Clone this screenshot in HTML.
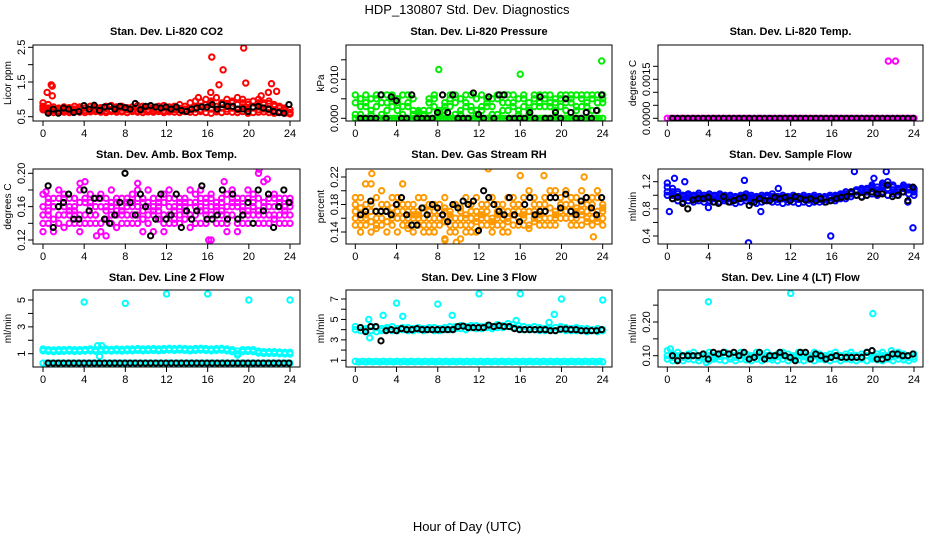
<!DOCTYPE html>
<html><head><meta charset="utf-8"><style>
html,body{margin:0;padding:0;background:#fff;}
svg{display:block;font-family:"Liberation Sans",Arial,sans-serif;}
</style></head><body>
<svg id="chart" width="936" height="540" viewBox="0 0 936 540" xmlns="http://www.w3.org/2000/svg">
<text x="467" y="14" font-size="13" text-anchor="middle">HDP_130807  Std. Dev. Diagnostics</text>
<text x="467" y="531" font-size="13" text-anchor="middle">Hour of Day (UTC)</text>
</svg>
<script>
// ---- data ----
const xTicks = [0,4,8,12,16,20,24];
const co2A = [0.9,0.75,0.7,0.72,0.68,0.7,0.72,0.7,0.75,0.7,0.72,0.7,0.74,0.7,0.72,0.75,0.72,0.7,0.74,0.72,0.7,0.74,0.72,0.75,0.72,0.7,0.74,0.72,0.75,0.78,0.8,0.85,0.9,0.8,0.85,0.88,0.9,0.85,0.9,0.85,0.95,0.9,0.85,0.88,0.8,0.75,0.7,0.6];
const co2B = [0.7,0.65,0.62,0.65,0.63,0.62,0.65,0.63,0.62,0.64,0.65,0.63,0.62,0.65,0.63,0.64,0.62,0.65,0.63,0.62,0.64,0.63,0.65,0.62,0.64,0.63,0.62,0.65,0.63,0.62,0.65,0.62,0.6,0.64,0.62,0.65,0.63,0.62,0.65,0.6,0.62,0.63,0.64,0.62,0.6,0.62,0.6,0.58];
const co2C = [0.8,0.85,0.78,0.75,0.78,0.76,0.8,0.78,0.75,0.8,0.78,0.76,0.8,0.82,0.78,0.8,0.76,0.78,0.82,0.8,0.78,0.76,0.8,0.82,0.78,0.8,0.85,0.8,0.9,0.95,0.92,1.0,0.95,1.05,0.9,1.0,0.95,1.05,1.0,0.92,0.95,1.0,0.9,0.95,0.85,0.8,0.75,0.7];
const co2D = [0.75,0.7,0.68,0.66,0.7,0.67,0.68,0.72,0.68,0.67,0.7,0.68,0.67,0.7,0.68,0.67,0.7,0.68,0.67,0.69,0.7,0.68,0.7,0.67,0.68,0.72,0.7,0.68,0.7,0.72,0.7,0.75,0.72,0.7,0.75,0.72,0.75,0.7,0.78,0.72,0.75,0.7,0.72,0.7,0.68,0.66,0.64,0.62];
const co2Out = [[0.4,1.2],[0.8,1.42],[0.9,1.38],[0.9,1.1],[16.4,2.22],[17.5,1.85],[19.5,2.48],[19.7,1.47],[17.1,1.42],[22.2,1.45],[22.7,1.23],[21.9,1.2],[15.1,1.05],[21.2,1.1],[16.3,1.2]];
const co2Black = [0.6,0.72,0.6,0.75,0.72,0.62,0.65,0.82,0.72,0.83,0.68,0.78,0.8,0.72,0.8,0.76,0.72,0.88,0.7,0.8,0.82,0.78,0.75,0.78,0.72,0.78,0.68,0.65,0.72,0.75,0.78,0.78,0.85,0.72,0.85,0.8,0.8,0.72,0.72,0.65,0.78,0.8,0.75,0.72,0.65,0.62,0.6,0.85];

const presA = [0.006,0.001,0.004,0.005,0.003,0.006,0.002,0.005,0.004,0.006,0.003,0.005,0.002,0.001,0.002,0.006,0.0015,0.002,0.006,0.004,0.001,0.003,0.006,0.002,0.006,0.003,0.005,0.006,0.004,0.002,0.006,0.005,0.003,0.001,0.006,0.004,0.003,0.006,0.002,0.005,0.006,0.004,0.006,0.003,0.006,0.005,0.002,0.006];
const presB = [0.001,0.005,0.003,0.002,0.006,0.001,0.004,0.006,0.002,0.003,0.004,0.001,0.0015,0.001,0.005,0.003,0.002,0.004,0.003,0.001,0.005,0.006,0.003,0.001,0.002,0.005,0.003,0.001,0.002,0.006,0.004,0.002,0.005,0.004,0.003,0.006,0.005,0.003,0.004,0.006,0.002,0.005,0.003,0.006,0.004,0.002,0.006,0.004];
const presC = [0.004,0.003,0.006,0.001,0.005,0.004,0.006,0.003,0.005,0.001,0.006,0.002,0.001,0.002,0.004,0.005,0.001,0.003,0.005,0.006,0.002,0.004,0.002,0.005,0.003,0.004,0.001,0.005,0.006,0.004,0.003,0.001,0.006,0.002,0.005,0.003,0.006,0.004,0.005,0.003,0.004,0.006,0.002,0.005,0.003,0.006,0.004,0.005];
const presLow = [0,0,0,0,0,0,0,0,0,0,0,0,0,0,0,0,0,0,0,0,0,0,0,0,0,0,0,0,0,0,0,0,0,0,0,0,0,0,0,0,0,0,0,0,0,0,0,0,0,0,0,0,0,0,0,0,0,0,0,0,0,0,0,0,0,0,0,0,0,0,0,0];
const presOut = [[8.1,0.0125],[16,0.0113],[23.9,0.0147]];
const presBlack = [0,0,0,0,0.006,0,0.0055,0.0045,0,0,0.006,0,0,0,0,0.0015,0.006,0.0015,0.006,0,0,0,0.0065,0.001,0,0.0055,0,0.006,0.006,0,0,0,0,0.0015,0,0.0055,0,0,0.0015,0,0.005,0.0015,0,0,0.0015,0,0.002,0.006];

const tempMag = [0,0,0,0,0,0,0,0,0,0,0,0,0,0,0,0,0,0,0,0,0,0,0,0,0,0,0,0,0,0,0,0,0,0,0,0,0,0,0,0,0,0,0,0,0,0,0,0,0,0,0,0,0,0,0,0,0,0,0,0,0,0,0,0,0,0,0,0,0,0,0,0];
const tempOut = [[21.5,0.0022],[22.2,0.0022]];
const tempBlack = [0,0,0,0,0,0,0,0,0,0,0,0,0,0,0,0,0,0,0,0,0,0,0,0,0,0,0,0,0,0,0,0,0,0,0,0,0,0,0,0,0,0,0,0,0,0,0,0];

const ambA = [0.14,0.17,0.13,0.18,0.15,0.16,0.17,0.14,0.19,0.15,0.17,0.16,0.125,0.18,0.15,0.16,0.17,0.14,0.18,0.155,0.165,0.13,0.17,0.15,0.18,0.16,0.14,0.17,0.15,0.16,0.18,0.14,0.17,0.155,0.165,0.13,0.17,0.16,0.15,0.18,0.16,0.14,0.19,0.15,0.17,0.14,0.16,0.15];
const ambB = [0.16,0.14,0.17,0.15,0.135,0.17,0.15,0.18,0.14,0.16,0.15,0.14,0.17,0.16,0.135,0.17,0.15,0.16,0.14,0.17,0.18,0.15,0.165,0.14,0.16,0.17,0.15,0.16,0.18,0.14,0.155,0.165,0.12,0.16,0.17,0.15,0.18,0.14,0.16,0.17,0.15,0.2,0.16,0.17,0.15,0.165,0.14,0.16];
const ambC = [0.175,0.155,0.16,0.14,0.17,0.15,0.16,0.13,0.165,0.175,0.14,0.17,0.155,0.15,0.17,0.14,0.16,0.175,0.15,0.13,0.16,0.17,0.145,0.175,0.15,0.14,0.17,0.165,0.135,0.175,0.16,0.15,0.175,0.14,0.15,0.175,0.16,0.13,0.17,0.15,0.165,0.17,0.14,0.16,0.175,0.16,0.15,0.17];
const ambD = [0.15,0.165,0.145,0.16,0.175,0.14,0.155,0.165,0.15,0.14,0.16,0.175,0.145,0.165,0.155,0.15,0.14,0.165,0.16,0.145,0.15,0.16,0.155,0.165,0.14,0.155,0.16,0.145,0.165,0.15,0.17,0.155,0.16,0.165,0.14,0.16,0.15,0.165,0.14,0.155,0.175,0.15,0.165,0.14,0.16,0.15,0.17,0.14];
const ambE = [0.13,0.15,0.16,0.17,0.16,0.155,0.14,0.15,0.17,0.165,0.15,0.13,0.16,0.14,0.165,0.155,0.165,0.15,0.17,0.165,0.14,0.155,0.16,0.13,0.17,0.145,0.165,0.155,0.15,0.165,0.14,0.17,0.15,0.16,0.155,0.14,0.165,0.17,0.155,0.14,0.16,0.155,0.15,0.17,0.145,0.17,0.155,0.165];
const ambOut = [[0.3,0.178],[3.6,0.188],[5.2,0.125],[9.2,0.188],[16.1,0.12],[21,0.205],[21.8,0.193],[17.6,0.19]];
const ambBlack = [0.185,0.135,0.16,0.165,0.175,0.145,0.145,0.18,0.155,0.17,0.17,0.145,0.14,0.15,0.165,0.2,0.165,0.15,0.175,0.16,0.125,0.145,0.175,0.145,0.15,0.175,0.135,0.155,0.145,0.155,0.185,0.145,0.145,0.15,0.18,0.145,0.175,0.145,0.15,0.165,0.14,0.18,0.155,0.175,0.135,0.16,0.18,0.165];

const rhA = [0.17,0.19,0.15,0.18,0.16,0.2,0.17,0.15,0.19,0.16,0.18,0.14,0.17,0.19,0.16,0.15,0.18,0.17,0.14,0.16,0.13,0.15,0.17,0.19,0.16,0.15,0.14,0.17,0.16,0.19,0.15,0.18,0.17,0.2,0.16,0.18,0.15,0.19,0.17,0.16,0.2,0.15,0.17,0.18,0.16,0.19,0.17,0.15];
const rhB = [0.15,0.16,0.18,0.14,0.19,0.15,0.17,0.19,0.14,0.17,0.16,0.18,0.15,0.16,0.14,0.18,0.15,0.13,0.16,0.18,0.15,0.14,0.16,0.17,0.15,0.18,0.16,0.15,0.18,0.14,0.17,0.16,0.19,0.15,0.17,0.16,0.18,0.15,0.2,0.17,0.16,0.17,0.19,0.15,0.18,0.16,0.2,0.16];
const rhC = [0.19,0.14,0.17,0.21,0.15,0.17,0.14,0.16,0.18,0.21,0.15,0.17,0.19,0.14,0.18,0.17,0.16,0.19,0.15,0.18,0.17,0.19,0.15,0.14,0.18,0.17,0.19,0.16,0.15,0.17,0.19,0.16,0.15,0.17,0.19,0.15,0.17,0.2,0.16,0.19,0.17,0.18,0.16,0.2,0.17,0.15,0.19,0.18];
const rhD = [0.16,0.175,0.165,0.155,0.17,0.16,0.18,0.165,0.16,0.15,0.17,0.16,0.165,0.175,0.15,0.16,0.17,0.155,0.165,0.15,0.16,0.165,0.18,0.155,0.17,0.16,0.15,0.165,0.17,0.16,0.18,0.15,0.165,0.17,0.155,0.17,0.16,0.175,0.165,0.18,0.17,0.16,0.175,0.165,0.155,0.17,0.16,0.17];
const rhE = [0.18,0.15,0.16,0.17,0.145,0.18,0.155,0.175,0.17,0.18,0.145,0.165,0.16,0.15,0.17,0.14,0.16,0.175,0.17,0.14,0.175,0.16,0.14,0.16,0.165,0.17,0.155,0.18,0.14,0.155,0.165,0.17,0.16,0.145,0.18,0.165,0.19,0.16,0.15,0.175,0.18,0.19,0.15,0.17,0.19,0.18,0.155,0.175];
const rhOut = [[1.6,0.225],[9.8,0.125],[12.9,0.232],[16,0.222],[18.3,0.222],[8.7,0.128],[22.2,0.22],[23.1,0.133],[1,0.21]];
const rhBlack = [0.165,0.17,0.185,0.17,0.17,0.17,0.165,0.18,0.19,0.165,0.15,0.15,0.175,0.165,0.18,0.175,0.165,0.155,0.18,0.175,0.185,0.18,0.185,0.142,0.2,0.19,0.18,0.17,0.165,0.19,0.165,0.155,0.18,0.19,0.165,0.17,0.17,0.19,0.19,0.175,0.195,0.17,0.165,0.185,0.19,0.175,0.165,0.19];

const flowA = [1.18,1.1,1.05,1.0,1.02,1.0,1.03,1.0,1.02,1.0,1.02,1.0,1.0,0.98,1.0,1.02,1.0,0.98,1.0,1.0,1.02,0.98,1.0,0.98,1.0,0.98,1.0,0.98,1.0,0.98,0.98,1.0,1.0,1.02,1.05,1.05,1.08,1.1,1.1,1.15,1.12,1.18,1.2,1.15,1.1,1.15,1.12,1.1];
const flowB = [1.0,0.95,0.92,0.9,0.92,0.9,0.92,0.9,0.92,0.9,0.9,0.92,0.9,0.88,0.9,0.92,0.9,0.88,0.9,0.92,0.9,0.9,0.88,0.9,0.9,0.88,0.9,0.88,0.9,0.9,0.9,0.92,0.92,0.95,0.95,0.98,1.0,0.98,1.0,1.02,1.0,1.05,1.0,1.02,1.0,1.05,1.02,1.0];
const flowC = [1.05,1.0,0.98,0.95,0.97,0.95,0.97,0.95,0.96,0.95,0.97,0.95,0.95,0.93,0.95,0.96,0.95,0.94,0.95,0.96,0.95,0.94,0.95,0.94,0.95,0.94,0.95,0.93,0.95,0.94,0.94,0.96,0.96,0.98,1.0,1.02,1.05,1.05,1.08,1.1,1.08,1.12,1.1,1.08,1.05,1.1,1.08,1.05];
const flowD = [1.12,1.05,1.02,0.98,1.0,0.98,1.0,0.97,0.99,0.98,1.0,0.97,0.98,0.96,0.97,0.99,0.97,0.96,0.97,0.98,0.98,0.96,0.97,0.96,0.97,0.96,0.97,0.96,0.97,0.96,0.96,0.98,0.98,1.0,1.02,1.04,1.06,1.08,1.05,1.12,1.05,1.15,1.15,1.12,1.08,1.12,1.1,1.08];
const flowOut = [[0.2,0.76],[0.7,1.25],[7.9,0.3],[9.1,0.76],[4,0.82],[15.9,0.4],[7.5,1.22],[23.9,0.52],[18.2,1.35],[21.3,1.35],[20.1,1.25],[10.8,1.1],[1.7,1.2],[23.4,0.9]];
const flowBlack = [0.95,0.97,0.88,0.8,0.93,0.95,0.95,0.97,0.9,0.88,0.98,0.9,0.92,0.95,0.97,0.85,0.9,0.95,0.92,0.92,0.97,0.95,0.97,0.92,0.98,0.95,0.93,0.95,0.92,0.95,0.9,0.92,0.95,0.97,0.98,1.05,1.0,0.97,1.0,1.05,1.02,1.02,1.15,0.98,1.0,1.05,0.92,1.12];

const l2A = [1.35,1.3,1.28,1.3,1.3,1.32,1.3,1.3,1.32,1.35,1.3,1.32,1.35,1.32,1.35,1.33,1.35,1.35,1.38,1.35,1.36,1.38,1.35,1.38,1.4,1.38,1.4,1.38,1.35,1.38,1.4,1.38,1.35,1.38,1.4,1.35,1.3,1.2,1.3,1.3,1.3,1.2,1.15,1.15,1.15,1.12,1.1,1.1];
const l2B = [1.22,1.18,1.15,1.17,1.18,1.2,1.17,1.18,1.2,1.22,1.18,1.2,1.22,1.2,1.22,1.2,1.22,1.22,1.25,1.22,1.23,1.25,1.22,1.25,1.27,1.25,1.27,1.25,1.22,1.25,1.27,1.25,1.22,1.25,1.27,1.22,1.15,1.0,1.15,1.18,1.15,1.05,1.02,1.02,1.02,1.0,0.98,0.98];
const l2Low = [0.3,0.3,0.3,0.3,0.3,0.3,0.3,0.3,0.3,0.3,0.3,0.3,0.3,0.3,0.3,0.3,0.3,0.3,0.3,0.3,0.3,0.3,0.3,0.3,0.3,0.3,0.3,0.3,0.3,0.3,0.3,0.3,0.3,0.3,0.3,0.3,0.3,0.3,0.3,0.3,0.3,0.3,0.3,0.3,0.3,0.3,0.3,0.3,0.3,0.3,0.3,0.3,0.3,0.3,0.3,0.3,0.3,0.3,0.3,0.3,0.3,0.3,0.3,0.3,0.3,0.3,0.3,0.3,0.3,0.3,0.3,0.3];
const l2Out = [[4,4.85],[8,4.75],[12,5.45],[16,5.45],[20,5.0],[24,5.0],[5.3,1.6],[5.7,1.6],[5.5,0.8],[18.9,0.9]];
const l2Black = [0.3,0.3,0.3,0.3,0.3,0.3,0.3,0.3,0.3,0.3,0.3,0.3,0.3,0.3,0.3,0.3,0.3,0.3,0.3,0.3,0.3,0.3,0.3,0.3,0.3,0.3,0.3,0.3,0.3,0.3,0.3,0.3,0.3,0.3,0.3,0.3,0.3,0.3,0.3,0.3,0.3,0.3,0.3,0.3,0.3,0.3,0.3,0.3];

const l3A = [4.3,4.2,4.1,4.3,4.2,4.1,4.2,4.3,4.1,4.2,4.2,4.1,4.2,4.1,4.2,4.2,4.1,4.2,4.3,4.3,4.4,4.3,4.4,4.4,4.3,4.4,4.3,4.5,4.4,4.6,4.5,4.4,4.3,4.2,4.3,4.2,4.1,4.2,4.2,4.3,4.2,4.1,4.2,4.1,4.1,4.0,4.1,4.0];
const l3B = [4.0,3.9,4.0,3.9,3.8,3.9,4.0,3.9,3.9,4.0,3.9,3.9,4.0,3.9,4.0,3.9,3.9,4.0,4.0,4.1,4.1,4.0,4.2,4.1,4.1,4.2,4.1,4.2,4.2,4.3,4.2,4.1,4.0,4.0,4.0,3.9,3.9,4.0,3.9,4.0,3.9,3.9,3.9,3.9,3.8,3.9,3.8,3.9];
const l3Low = [0.9,0.85,0.9,0.85,0.9,0.85,0.9,0.85,0.9,0.85,0.9,0.85,0.9,0.85,0.9,0.85,0.9,0.85,0.9,0.85,0.9,0.85,0.9,0.85,0.9,0.85,0.9,0.85,0.9,0.85,0.9,0.85,0.9,0.85,0.9,0.85,0.9,0.85,0.9,0.85,0.9,0.85,0.9,0.85,0.9,0.85,0.9,0.85,0.9,0.85,0.9,0.85,0.9,0.85,0.9,0.85,0.9,0.85,0.9,0.85,0.9,0.85,0.9,0.85,0.9,0.85,0.9,0.85,0.9,0.85,0.9,0.85];
const l3Out = [[4,6.6],[8,6.5],[12,7.5],[16,7.5],[20,7],[24,6.9],[2.7,5.4],[4.6,5.3],[9.4,5.4],[19.3,5.5],[1.4,3.2],[1.3,5],[15.6,4.9],[18.8,4.7]];
const l3Black = [4.2,3.8,4.3,4.3,2.9,3.9,4.0,3.9,4.1,4.0,4.0,4.1,4.0,4.0,4.0,4.0,4.0,4.0,4.0,4.3,4.35,4.2,4.2,4.2,4.2,4.45,4.3,4.4,4.3,4.3,4.1,4.0,4.0,4.0,4.0,4.0,4.0,3.9,3.9,4.05,4.05,4.0,4.0,3.9,3.9,3.9,3.9,4.0];

const l4A = [0.115,0.105,0.11,0.1,0.105,0.11,0.1,0.105,0.11,0.1,0.105,0.11,0.105,0.1,0.11,0.105,0.1,0.11,0.105,0.11,0.1,0.105,0.11,0.105,0.1,0.11,0.105,0.1,0.11,0.105,0.1,0.105,0.11,0.1,0.105,0.11,0.1,0.105,0.11,0.1,0.105,0.11,0.1,0.105,0.11,0.105,0.1,0.105];
const l4B = [0.09,0.085,0.09,0.085,0.09,0.088,0.085,0.09,0.085,0.09,0.088,0.085,0.09,0.085,0.09,0.088,0.085,0.09,0.085,0.09,0.088,0.085,0.09,0.085,0.09,0.088,0.085,0.09,0.085,0.09,0.088,0.085,0.09,0.085,0.09,0.088,0.085,0.09,0.085,0.09,0.088,0.085,0.09,0.085,0.09,0.088,0.085,0.09];
const l4C = [0.1,0.095,0.1,0.095,0.098,0.1,0.095,0.097,0.1,0.095,0.098,0.1,0.096,0.095,0.1,0.097,0.095,0.1,0.096,0.1,0.095,0.097,0.1,0.096,0.095,0.1,0.097,0.095,0.1,0.096,0.095,0.097,0.1,0.095,0.097,0.1,0.095,0.097,0.1,0.095,0.097,0.1,0.095,0.097,0.1,0.096,0.095,0.097];
const l4Out = [[4,0.26],[12,0.285],[20,0.225],[0.3,0.12],[21.8,0.115],[3.8,0.08]];
const l4Black = [0.1,0.085,0.1,0.1,0.1,0.1,0.105,0.09,0.11,0.105,0.11,0.105,0.11,0.1,0.11,0.09,0.095,0.11,0.09,0.1,0.1,0.11,0.1,0.095,0.085,0.11,0.11,0.09,0.105,0.1,0.09,0.095,0.1,0.095,0.095,0.095,0.095,0.095,0.11,0.115,0.09,0.09,0.095,0.105,0.105,0.1,0.1,0.105];

// ---- layout ----
const NS = "http://www.w3.org/2000/svg";
const svg = document.getElementById('chart');
const cols = [{l:33,r:300,h0:43,h24:290},{l:346,r:612,h0:355.3,h24:602.7},{l:658,r:923,h0:667.3,h24:914}];
const rows = [{t:45,b:121,title:35},{t:169,b:244,title:158},{t:290,b:367,title:281}];

function mk(tag, attrs, parent){ const e=document.createElementNS(NS,tag); for(const k in attrs) e.setAttribute(k,attrs[k]); (parent||svg).appendChild(e); return e; }

const panels = [
 {name:'co2',title:'Stan. Dev. Li-820 CO2',ylab:'Licor ppm',col:0,row:0,ym:[0.5,116.7,2.5,47.3],ticks:[0.5,1,1.5,2,2.5],labels:['0.5','1.5','2.5'],color:'#ff0000',series:[co2B,co2D,co2A,co2C],out:co2Out,black:co2Black},
 {name:'pressure',title:'Stan. Dev. Li-820 Pressure',ylab:'kPa',col:1,row:0,ym:[0,118.3,0.01,79.3],ticks:[0,0.005,0.01,0.015],labels:['0.000','0.010'],color:'#00ee00',series:[presLow,presB,presA,presC],out:presOut,black:presBlack},
 {name:'temp',title:'Stan. Dev. Li-820 Temp.',ylab:'degrees C',col:2,row:0,ym:[0,118.3,0.0015,79.3],ticks:[0,0.0005,0.001,0.0015,0.002],labels:['0.0000','0.0015'],color:'#ff00ff',series:[tempMag],out:tempOut,black:tempBlack},
 {name:'amb-box-temp',title:'Stan. Dev. Amb. Box Temp.',ylab:'degrees C',col:0,row:1,ym:[0.12,240,0.2,173.3],ticks:[0.12,0.14,0.16,0.18,0.2],labels:['0.12','0.16','0.20'],color:'#ff00ff',series:[ambA,ambB,ambC,ambD,ambE],out:ambOut,black:ambBlack},
 {name:'gas-rh',title:'Stan. Dev. Gas Stream RH',ylab:'percent',col:1,row:1,ym:[0.14,232,0.22,177],ticks:[0.14,0.16,0.18,0.2,0.22],labels:['0.14','0.18','0.22'],color:'#ff9900',series:[rhA,rhB,rhC,rhD,rhE],out:rhOut,black:rhBlack},
 {name:'sample-flow',title:'Stan. Dev. Sample Flow',ylab:'ml/min',col:2,row:1,ym:[0.4,236,1.2,181.7],ticks:[0.4,0.6,0.8,1,1.2],labels:['0.4','0.8','1.2'],color:'#0000ff',series:[flowB,flowC,flowD,flowA],out:flowOut,black:flowBlack},
 {name:'line2-flow',title:'Stan. Dev. Line 2 Flow',ylab:'ml/min',col:0,row:2,ym:[1,353.7,5,300],ticks:[1,2,3,4,5],labels:['1','3','5'],color:'#00ffff',series:[l2Low,l2B,l2A],out:l2Out,black:l2Black},
 {name:'line3-flow',title:'Stan. Dev. Line 3 Flow',ylab:'ml/min',col:1,row:2,ym:[1,360.3,7,299],ticks:[1,2,3,4,5,6,7],labels:['1','3','5','7'],color:'#00ffff',series:[l3Low,l3B,l3A],out:l3Out,black:l3Black},
 {name:'line4-flow',title:'Stan. Dev. Line 4 (LT) Flow',ylab:'ml/min',col:2,row:2,ym:[0.1,355.7,0.2,322],ticks:[0.1,0.15,0.2,0.25],labels:['0.10','0.20'],color:'#00ffff',series:[l4B,l4C,l4A],out:l4Out,black:l4Black}
];

panels.forEach(p=>{
  const c=cols[p.col], r=rows[p.row];
  const xs = h => c.h0 + (c.h24-c.h0)*h/24;
  const ys = v => p.ym[1] + (v-p.ym[0])*(p.ym[3]-p.ym[1])/(p.ym[2]-p.ym[0]);
  const g = mk('g',{});
  
  
  const clipId='clip-'+p.name;
  const cp=mk('clipPath',{id:clipId},g); mk('rect',{x:c.l,y:r.t,width:c.r-c.l,height:r.b-r.t},cp);
  const t=mk('text',{x:(c.l+c.r)/2,y:r.title,'font-size':11,'font-weight':'bold','text-anchor':'middle'},g); t.textContent=p.title;
  
  
  const pts=mk('g',{'clip-path':'url(#'+clipId+')',fill:'none','stroke-width':2},g);
  
  
  p.series.forEach(arr=>{
    arr.forEach((v,i)=>{
      const ci=mk('circle',{cx:xs(i*24/(arr.length-1)),cy:ys(v),r:2.7,stroke:p.color},pts);
      
      
    });
  });
  p.out.forEach(o=>{
    const ci=mk('circle',{cx:xs(o[0]),cy:ys(o[1]),r:2.7,stroke:p.color},pts);
    
    
  });
  p.black.forEach((v,i)=>{
    const h=0.5+i*(23.4/(p.black.length-1));
    const ci=mk('circle',{cx:xs(h),cy:ys(v),r:2.6,stroke:'#000'},pts);
    
    
  });
  const box=mk('rect',{x:c.l,y:r.t,width:c.r-c.l,height:r.b-r.t,fill:'none',stroke:'#000','stroke-width':1},g);
  
  
  xTicks.forEach(h=>{
    mk('line',{x1:xs(h),x2:xs(h),y1:r.b,y2:r.b+5,stroke:'#000'},g);
    const tl=mk('text',{x:xs(h),y:r.b+16,'font-size':11,'text-anchor':'middle'},g); tl.textContent=h;
    
    
  });
  p.ticks.forEach(v=>{ mk('line',{x1:c.l-5,x2:c.l,y1:ys(v),y2:ys(v),stroke:'#000'},g); });
  p.labels.forEach(s=>{
    const v=parseFloat(s), yy=ys(v), xx=c.l-8;
    const tl=mk('text',{x:xx,y:yy,'font-size':11,'text-anchor':'middle',transform:'rotate(-90 '+xx+' '+yy+')'},g); tl.textContent=s;
    
    
  });
  const yx=c.l-22, yy=(r.t+r.b)/2;
  const yl=mk('text',{x:yx,y:yy,'font-size':10,'text-anchor':'middle',transform:'rotate(-90 '+yx+' '+yy+')'},g); yl.textContent=p.ylab;
  
  
});
</script>
</body></html>
